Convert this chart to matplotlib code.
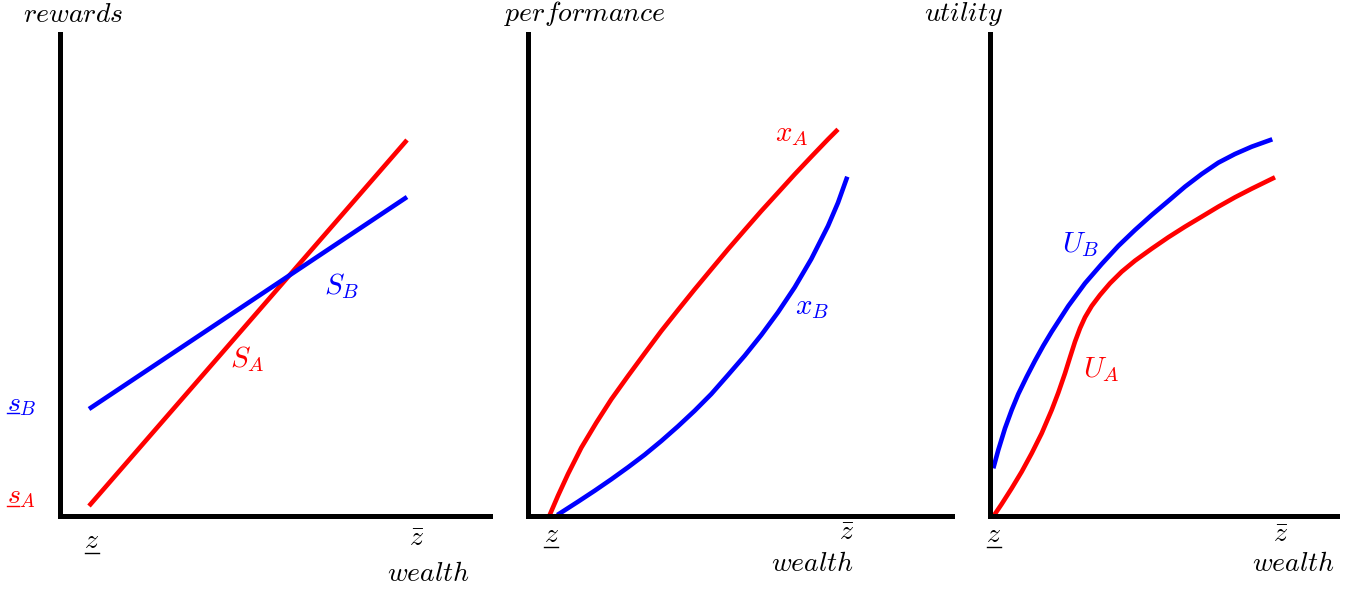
import matplotlib
matplotlib.use("Agg")
import matplotlib.pyplot as plt
from matplotlib.lines import Line2D

plt.rcParams['mathtext.fontset'] = 'cm'

W, H = 1353, 590

# values, in pixel units from each panel's corner
# panel 1: rewards
wealth_s = [29, 347]
S_A = [10, 376]
S_B = [107, 319]

# panel 2: performance
wealth_xA = [21.7, 30, 40, 53.3, 68.3, 83.3, 100, 116.7, 133.3, 150, 166.7,
             183.3, 200, 216.7, 233.3, 250, 266.7, 283.3, 300, 310]
x_A = [1, 20.3, 42, 68.3, 93.3, 116.7, 140, 162.7, 185, 206, 226.7,
       246.7, 266.7, 286, 305, 323.3, 341.7, 359.3, 376.7, 386.7]
wealth_xB = [29.3, 50, 66.7, 83.3, 100, 116.7, 133.3, 150, 166.7, 183.3,
             200, 216.7, 233.3, 250, 266.7, 283.3, 300, 310, 319.3]
x_B = [1, 14.3, 25.3, 36.7, 48.7, 61.3, 75, 89.7, 105.3, 122,
       141, 160.3, 181, 203.7, 228.7, 257, 290, 313.3, 339.3]

# panel 3: utility
wealth_UB = [3.3, 8.3, 15, 21.7, 28.3, 36.7, 45, 53.3, 61.7, 78.3, 95,
             111.7, 128.3, 145, 161.7, 178.3, 195, 211.7, 228.3, 245, 261.7, 282.3]
U_B = [47.7, 66, 87.7, 106, 122, 139.3, 155.3, 170.3, 184.3, 210, 232.7,
       252, 270, 286, 301, 315, 329.3, 342, 353.3, 362, 369.3, 376.7]
wealth_UA = [4.3, 11.7, 21.7, 31.7, 41.7, 51.7, 61.7, 68.3, 75, 80, 85, 90, 95,
             101.7, 110, 120, 131.7, 145, 161.7, 178.3, 195, 211.7, 228.3, 245,
             261.7, 285]
U_A = [1, 12, 27.7, 44.3, 62.7, 82.7, 106, 123.3, 142.7, 158.7, 174.3, 187.7,
       198.7, 210, 221, 232.7, 244.3, 255.3, 267.3, 278.7, 289.3, 299.3, 309.3,
       318.7, 327.3, 338.7]

RED = '#ff0000'
BLUE = '#0000ff'
FS = 20
FS_LAB = 21
LW = 3.3

fig = plt.figure(figsize=(W / 100, H / 100), dpi=100)


def px(x, y):
    return x / W, 1 - y / H


def make_axes(x0, x1, top=34, base=516):
    ax = fig.add_axes([x0 / W, 1 - base / H, (x1 - x0) / W, (base - top) / H])
    ax.set_xlim(0, x1 - x0)
    ax.set_ylim(0, base - top)
    for s in ['top', 'right']:
        ax.spines[s].set_visible(False)
    for s in ['left', 'bottom']:
        ax.spines[s].set_linewidth(3.6)
        ax.spines[s].set_capstyle('projecting')
    ax.set_xticks([])
    ax.set_yticks([])
    ax.patch.set_alpha(0)
    return ax


def ftext(x, y, s, color='black'):
    fig.text(*px(x, y), s, fontsize=FS, color=color, ha='center', va='center')


def underline(x0, x1, y, color='black'):
    a, b = px(x0, y)
    c, _ = px(x1, y)
    fig.add_artist(Line2D([a, c], [b, b], color=color, lw=1.0,
                          transform=fig.transFigure))


def label(ax, x, y, s, color):
    ax.text(x, y, s, color=color, fontsize=FS_LAB, ha='center', va='center')


# --- rewards ---
ax1 = make_axes(60, 490)
ax1.plot(wealth_s, S_A, color=RED, lw=LW, solid_capstyle='butt')
ax1.plot(wealth_s, S_B, color=BLUE, lw=LW, solid_capstyle='butt')
label(ax1, 187, 157, r'$S_A$', RED)
label(ax1, 282, 230, r'$S_B$', BLUE)
ftext(73, 14, r'$rewards$')
ftext(22, 404, r'$s_B$', BLUE)
underline(7, 19, 413, BLUE)
ftext(22, 496, r'$s_A$', RED)
underline(7, 19, 506, RED)
ftext(92, 540, r'$z$')
underline(85, 99, 553)
ftext(417, 538, r'$\bar{z}$')
ftext(428, 573, r'$wealth$')

# --- performance ---
ax2 = make_axes(528, 952)
ax2.plot(wealth_xA, x_A, color=RED, lw=LW, solid_capstyle='butt')
ax2.plot(wealth_xB, x_B, color=BLUE, lw=LW, solid_capstyle='butt')
label(ax2, 264, 382, r'$x_A$', RED)
label(ax2, 284, 209, r'$x_B$', BLUE)
ftext(585, 14, r'$performance$')
ftext(551, 534, r'$z$')
underline(544, 558, 547)
ftext(847, 532, r'$\bar{z}$')
ftext(812, 563, r'$wealth$')

# --- utility ---
ax3 = make_axes(990, 1337)
ax3.plot(wealth_UB, U_B, color=BLUE, lw=LW, solid_capstyle='butt')
ax3.plot(wealth_UA, U_A, color=RED, lw=LW, solid_capstyle='butt')
label(ax3, 91, 271, r'$U_B$', BLUE)
label(ax3, 111, 146, r'$U_A$', RED)
ftext(964, 14, r'$utility$')
ftext(994, 534, r'$z$')
underline(987, 1001, 547)
ftext(1281, 534, r'$\bar{z}$')
ftext(1293, 563, r'$wealth$')

fig.savefig('out.png', dpi=100)
